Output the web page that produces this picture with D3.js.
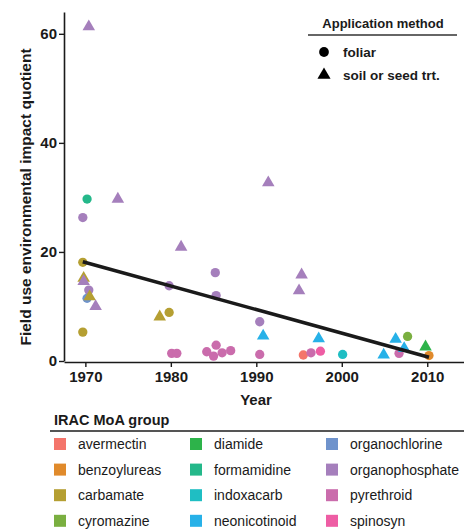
<!DOCTYPE html>
<html>
<head>
<meta charset="utf-8">
<script src="https://cdn.jsdelivr.net/npm/d3@7"></script>
<style>
  body { margin: 0; background: #fff; }
  svg text { font-family: "Liberation Sans", Arial, sans-serif; fill: #1a1a1a; }
</style>
</head>
<body>
<div id="chart"></div>
<script>
// data
const years = [1970.4, 1970.2, 1973.8, 1969.7, 1981.2, 1969.7, 1969.8, 1969.8, 1970.4, 1970.2, 1970.5, 1971.2, 1969.7,
  1978.7, 1979.8, 1979.8, 1980.1, 1980.7, 1991.4, 1985.2, 1985.3, 1995.3, 1995.0, 1990.4, 1990.8, 1997.3,
  1984.2, 1985.3, 1985.0, 1986.0, 1987.0, 1990.4, 1995.5, 1996.4, 1997.5, 2000.1, 2004.9, 2006.3, 2006.7,
  2007.3, 2007.7, 2009.8, 2010.2]
const eiq = [61.3, 29.7, 29.7, 26.3, 20.9, 18.1, 15.2, 14.6, 13.0, 11.5, 11.8, 10.0, 5.3,
  8.1, 8.9, 13.8, 1.4, 1.4, 32.7, 16.2, 12.0, 15.8, 12.9, 7.2, 4.6, 4.1,
  1.7, 2.9, 0.9, 1.5, 1.9, 1.2, 1.1, 1.5, 1.8, 1.2, 1.1, 4.0, 1.4,
  2.3, 4.5, 2.6, 1.0]
const groups = ["organophosphate", "formamidine", "organophosphate", "organophosphate", "organophosphate", "carbamate",
  "carbamate", "organophosphate", "organophosphate", "organochlorine", "carbamate", "organophosphate", "carbamate",
  "carbamate", "carbamate", "organophosphate", "pyrethroid", "pyrethroid", "organophosphate", "organophosphate",
  "organophosphate", "organophosphate", "organophosphate", "organophosphate", "neonicotinoid", "neonicotinoid",
  "pyrethroid", "pyrethroid", "pyrethroid", "pyrethroid", "pyrethroid", "pyrethroid", "avermectin", "pyrethroid",
  "spinosyn", "indoxacarb", "neonicotinoid", "neonicotinoid", "pyrethroid", "neonicotinoid", "cyromazine",
  "diamide", "benzoylureas"]
const methods = ["soil", "foliar", "soil", "foliar", "soil", "foliar", "soil", "soil", "foliar", "foliar", "soil", "soil", "foliar",
  "soil", "foliar", "foliar", "foliar", "foliar", "soil", "foliar", "foliar", "soil", "soil", "foliar", "soil", "soil",
  "foliar", "foliar", "foliar", "foliar", "foliar", "foliar", "foliar", "foliar", "foliar", "foliar", "soil", "soil", "foliar",
  "soil", "foliar", "soil", "foliar"]

const fitYears = [1969.7, 2010.2] // regression line ends
const fitValues = [18.2, 0.7]

const groupNames = ["avermectin", "benzoylureas", "carbamate", "cyromazine", "diamide", "formamidine",
  "indoxacarb", "neonicotinoid", "organochlorine", "organophosphate", "pyrethroid", "spinosyn"]
const groupColors = ["#f4756b", "#e08a2b", "#b59f32", "#7aaf40", "#2db34a", "#24b88a",
  "#1fbec3", "#27b1e8", "#6f93cc", "#a57fbc", "#ca6cac", "#ee5da4"]
const methodNames = ["foliar", "soil"]
const methodLabels = ["foliar", "soil or seed trt."]
const xTicks = [1970, 1980, 1990, 2000, 2010]
const yTicks = [0, 20, 40, 60]

const width = 464, height = 529

const svg = d3.select("#chart").append("svg")
  .attr("width", width)
  .attr("height", height)

let x = d3.scaleLinear().domain([1967.5, 2014.3]).range([64, 464])
let y = d3.scaleLinear().domain([0, 64]).range([361, 12])
let color = d3.scaleOrdinal().domain(groupNames).range(groupColors)
let shape = d3.scaleOrdinal().domain(methodNames).range([d3.symbolCircle, d3.symbolTriangle])

// axes
let xAxis = svg.append("g")
  .attr("transform", "translate(0,362)")
  .call(d3.axisBottom(x).tickValues(xTicks).tickFormat(d3.format("d")).tickSize(5).tickSizeOuter(0))
let yAxis = svg.append("g")
  .attr("transform", "translate(64,0)")
  .call(d3.axisLeft(y).tickValues(yTicks).tickSize(5).tickSizeOuter(0))

;[xAxis, yAxis].forEach(a => {
  a.select(".domain").attr("stroke", "#1a1a1a").attr("stroke-width", 1.6)
  a.selectAll(".tick line").attr("stroke", "#1a1a1a").attr("stroke-width", 1.4)
  a.selectAll(".tick text").attr("font-size", 15).attr("font-weight", "bold").attr("fill", "#1a1a1a")
    .style("font-family", "'Liberation Sans', Arial, sans-serif")
})
xAxis.selectAll(".tick text").attr("dy", "0.95em").attr("y", 6)
yAxis.selectAll(".tick text").attr("x", -7)

svg.append("text")
  .attr("x", 256).attr("y", 405)
  .attr("text-anchor", "middle")
  .attr("font-size", 15).attr("font-weight", "bold")
  .text("Year")

svg.append("text")
  .attr("transform", "translate(31,197) rotate(-90)")
  .attr("text-anchor", "middle")
  .attr("font-size", 15.5).attr("font-weight", "bold")
  .text("Field use environmental impact quotient")

// points
let data = years.map((d, i) => ({ year: d, value: eiq[i], group: groups[i], method: methods[i] }))
svg.append("g").selectAll("path").data(data).enter()
  .append("path")
  .attr("transform", d => "translate(" + x(d.year) + "," + y(d.value) + ")")
  .attr("d", d => d3.symbol().type(shape(d.method)).size(68)())
  .attr("fill", d => color(d.group))

// fit line
svg.append("path")
  .datum(fitYears.map((d, i) => [d, fitValues[i]]))
  .attr("d", d3.line().x(d => x(d[0])).y(d => y(d[1])))
  .attr("stroke", "#1a1a1a")
  .attr("stroke-width", 3.6)
  .attr("fill", "none")

// application method legend
let appLegend = svg.append("g")
appLegend.append("text")
  .attr("x", 383).attr("y", 28)
  .attr("text-anchor", "middle")
  .attr("font-size", 13).attr("font-weight", "bold")
  .text("Application method")
appLegend.append("line")
  .attr("x1", 308).attr("x2", 457).attr("y1", 35).attr("y2", 35)
  .attr("stroke", "#333").attr("stroke-width", 1.5)
methodNames.forEach((m, i) => {
  let cy = 52 + i * 23
  appLegend.append("path")
    .attr("transform", "translate(324," + cy + ")")
    .attr("d", d3.symbol().type(shape(m)).size(75)())
    .attr("fill", "#000")
  appLegend.append("text")
    .attr("x", 343).attr("y", cy + 5)
    .attr("font-size", 13.5).attr("font-weight", "bold")
    .text(methodLabels[i])
})

// IRAC MoA group legend
let moaLegend = svg.append("g")
moaLegend.append("text")
  .attr("x", 54).attr("y", 425)
  .attr("font-size", 14.5).attr("font-weight", "bold")
  .text("IRAC MoA group")
moaLegend.append("line")
  .attr("x1", 50).attr("x2", 464).attr("y1", 431).attr("y2", 431)
  .attr("stroke", "#555").attr("stroke-width", 2)
groupNames.forEach((g, i) => {
  let col = Math.floor(i / 4), row = i % 4
  let sx = [54, 190, 326][col]
  let cy = 444 + row * 25.6
  moaLegend.append("rect")
    .attr("x", sx).attr("y", cy - 6).attr("width", 12).attr("height", 12)
    .attr("fill", color(g))
  moaLegend.append("text")
    .attr("x", sx + 24).attr("y", cy + 5)
    .attr("font-size", 14)
    .text(g)
})
</script>
</body>
</html>
